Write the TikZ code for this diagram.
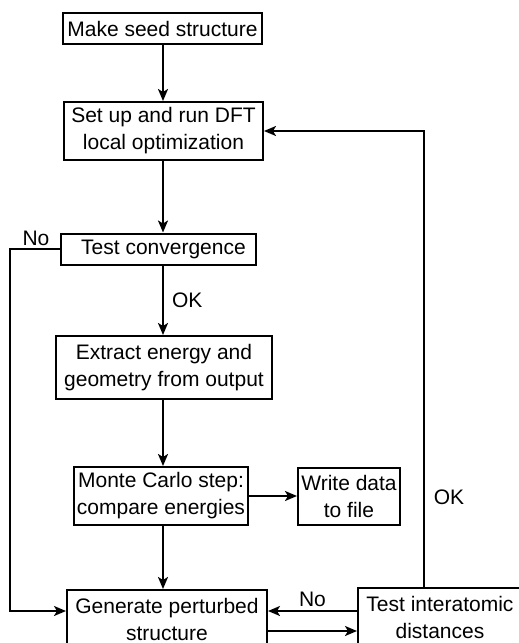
\documentclass[tikz,border=0pt]{standalone}
\usepackage{fontspec}
\setmainfont{Liberation Sans}
\usetikzlibrary{arrows.meta}
\begin{document}
\begin{tikzpicture}[x=1pt,y=-1pt,
  box/.style={draw,line width=2pt,inner sep=0pt,align=center,
    font=\fontsize{21}{27}\selectfont},
  lbl/.style={inner sep=0pt,font=\fontsize{21}{27}\selectfont},
  conn/.style={line width=2pt,-{Stealth[length=12pt,width=10pt,inset=3pt]}},
  plain/.style={line width=2pt}]
\useasboundingbox (0,0) rectangle (519,643);
\clip (0,0) rectangle (519,643);
\node[box,minimum width=199pt,minimum height=31pt] (b1) at (162.5,28.5) {Make seed structure};
\node[box,minimum width=199pt,minimum height=58pt] (b2) at (163.5,131) {Set up and run DFT\\local optimization};
\node[box,minimum width=195pt,minimum height=31pt] (b3) at (158.5,249) {\kern10pt Test convergence};
\node[box,minimum width=216pt,minimum height=63pt] (b4) at (164,367.5) {Extract energy and\\geometry from output};
\node[box,minimum width=174pt,minimum height=58pt] (b5) at (161,496) {Monte Carlo step:\\compare energies};
\node[box,minimum width=102pt,minimum height=57pt] (b6) at (349,496.5) {Write data\\to file};
\node[box,minimum width=200pt,minimum height=58pt] (b7) at (167,619) {Generate perturbed\\structure};
\node[box,minimum width=200pt,minimum height=58pt] (b8) at (458,617) {Test interatomic\kern36pt\\distances\kern36pt};
\draw[conn] (b1.south -| 163,0) -- (b2.north -| 163,0);
\draw[conn] (b2.south -| 163,0) -- (b3.north -| 163,0);
\draw[conn] (b3.south -| 163,0) -- (b4.north -| 163,0)
  node[lbl,midway,anchor=west,xshift=8pt] (ok1) {OK};
\draw[conn] (b4.south -| 163,0) -- (b5.north -| 163,0);
\draw[conn] (b5.east) -- (b5.east -| b6.west);
\draw[conn] (b5.south -| 163,0) -- (b7.north -| 163,0);
\coordinate (lft) at (10,0);
\draw[conn] (b3.west) -- (b3.west -| lft) |- ([yshift=8pt]b7.west);
\node[lbl] (no1) at (36,238) {No};
\draw[conn] ([yshift=6pt]b8.west) -- ([yshift=8pt]b7.east)
  node[lbl,midway,above,yshift=3pt] (no2) {No};
\draw[conn] ([yshift=-12pt]b7.east) -- ([yshift=-14pt]b8.west);
\coordinate (okc) at (424,131);
\draw[conn] (b8.north -| okc) -- (okc) -- (b2.east);
\node[lbl] (ok2) at (449,497) {OK};
\end{tikzpicture}
\end{document}
